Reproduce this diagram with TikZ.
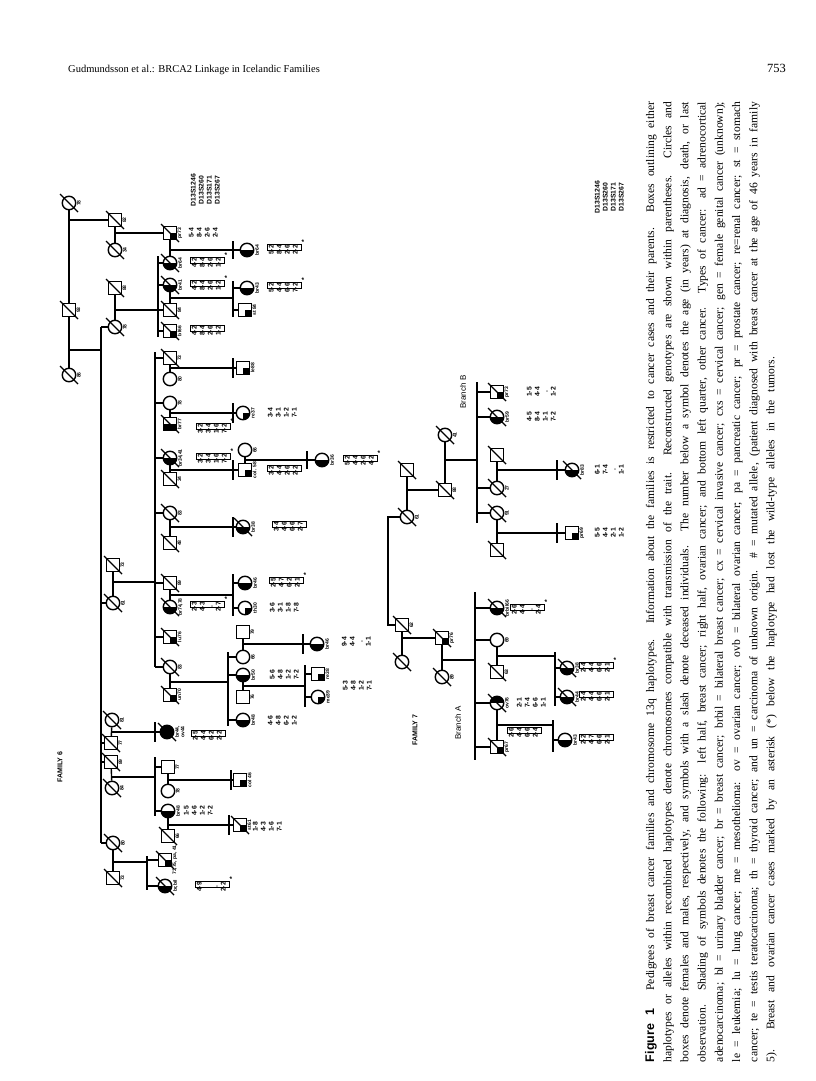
\documentclass[tikz,border=0pt]{standalone}
\usepackage{fontspec}
\setmainfont{Liberation Serif}
\setsansfont{Liberation Sans}
\usetikzlibrary{calc}

\newcommand{\pedfont}{\fontsize{5}{5.5}\selectfont\sffamily\bfseries}
\newcommand{\hapfont}{\fontsize{6.8}{8}\selectfont\sffamily\bfseries}
\newcommand{\hp}[4]{\begin{tabular}{@{}c@{}}#1\\#2\\#3\\#4\end{tabular}}
\newcommand{\hapbox}[1]{\draw[line width=0.7pt] (#1.north east) rectangle ($(#1.south west)!0.45!(#1.south east)$);}
\newcommand{\hapstar}[1]{\node[hap] (#1s) at ([shift={(3,-3)}]#1.south east) {*};}
\newcommand{\capline}[1]{\makebox[960pt][s]{#1}}

\begin{document}
\begin{tikzpicture}[x=1pt, y=-1pt,
  ln/.style={line width=1.4pt},
  sq/.style={draw, rectangle, line width=1.4pt, minimum size=12.5pt, inner sep=0pt},
  ci/.style={draw, circle, line width=1.4pt, minimum size=13.5pt, inner sep=0pt},
  brc/.style={path picture={\fill (path picture bounding box.south west) rectangle (path picture bounding box.east);}},
  ovc/.style={path picture={\fill (path picture bounding box.west) rectangle (path picture bounding box.north east);}},
  oth/.style={path picture={\fill (path picture bounding box.center) rectangle (path picture bounding box.south east);}},
  lab/.style={font=\pedfont, rotate=90, inner sep=0.5pt, align=center},
  lb/.style={label distance=1.5pt, label={[lab, anchor=north]east:#1}},
  hap/.style={font=\hapfont, rotate=90, inner sep=0.8pt},
  ttl/.style={font=\fontsize{7}{8}\selectfont\sffamily\bfseries, rotate=90},
  brn/.style={font=\fontsize{8}{9}\selectfont\sffamily, rotate=90}]
\useasboundingbox (0,0) rectangle (816,1081);
\fill[white] (0,0) rectangle (816,1081);

\node[anchor=base west, inner sep=0, font=\fontsize{10.5}{12}\selectfont] (hdr) at (68,72) {Gudmundsson et al.: BRCA2 Linkage in Icelandic Families};
\node[anchor=base east, inner sep=0, font=\fontsize{12.5}{14}\selectfont] (pg) at (786,72) {753};

\node[ci, lb=78] (a1) at (69,203) {};
\node[sq, lb=93] (a2) at (69,310) {};
\node[ci, lb=86] (a3) at (69,375) {};
\node[sq, lb=82] (b1) at (115,220) {};
\node[ci, lb=34] (b2) at (115,250) {};
\node[sq, lb=88] (b3) at (115,288) {};
\node[ci, lb=78] (b4) at (115,327) {};
\node[sq, lb=73] (b5) at (113,565) {};
\node[ci, lb=61] (b6) at (113,603) {};
\node[ci, lb=81] (b7) at (112,720) {};
\node[sq, lb=77] (b8) at (111,743) {};
\node[sq, lb=89] (b9) at (111,762) {};
\node[ci, lb=84] (b10) at (112,788) {};
\node[ci, lb=80] (b11) at (113,843) {};
\node[sq, lb=73] (b12) at (113,878) {};

\node[sq, oth, lb=pr73] (c1) at (170,233) {};
\node[ci, brc, lb=br64] (c2) at (170,263) {};
\node[ci, brc, lb=br41] (c3) at (170,285) {};
\node[sq, lb=84] (c4) at (170,310) {};
\node[sq, oth, lb=bl66] (c5) at (170,331) {};
\node[sq, lb=73] (c6) at (170,358) {};
\node[ci, lb=80] (c7) at (170,379) {};
\node[ci, lb=78] (c8) at (170,403) {};
\node[sq, brc, lb=br77] (c9) at (170,424) {};
\node[ci, brc, lb={br34,41}] (c10) at (170,458) {};
\node[sq, lb=34] (c11) at (170,479) {};
\node[ci, lb=83] (c12) at (170,513) {};
\node[sq, lb=48] (c13) at (170,543) {};
\node[sq, lb=89] (c14) at (170,583) {};
\node[ci, brc, lb={br74,78}] (c15) at (170,607) {};
\node[sq, oth, lb=lu76] (c16) at (170,637) {};
\node[ci, lb=83] (c17) at (170,667) {};
\node[sq, oth, lb=un70] (c18) at (170,695) {};
\node[ci, fill=black, lb={br44,\\ov44}] (c19) at (167,732) {};
\node[sq, lb=77] (c20) at (168,767) {};
\node[ci, lb=78] (c21) at (168,791) {};
\node[ci, brc, lb=br48] (c22) at (168,811) {};
\node[sq, lb=66] (c23) at (168,836) {};
\node[sq, oth, lb={73,75, pa, 41}] (c24) at (165,860) {};
\node[ci, brc, lb={br,bil}] (c25) at (165,886) {};

\node[ci, brc, lb=br64] (d1) at (247,250) {};
\node[ci, brc, lb=br43] (d2) at (247,288) {};
\node[sq, oth, lb=st 84] (d3) at (245,310) {};
\node[sq, oth, lb=le88] (d4) at (243,368) {};
\node[ci, oth, lb=re37] (d5) at (243,413) {};
\node[ci, lb=66] (d6) at (245,450) {};
\node[sq, oth, lb=col. 58] (d7) at (245,470) {};
\node[ci, brc, lb=br38] (d8) at (243,527) {};
\node[ci, brc, lb=br46] (d9) at (245,583) {};
\node[ci, oth, lb=th30] (d10) at (245,608) {};
\node[sq, lb=79] (d11) at (243,632) {};
\node[ci, lb=66] (d12) at (243,657) {};
\node[ci, brc, lb=br50] (d13) at (243,675) {};
\node[sq, lb=76] (d14) at (243,697) {};
\node[ci, brc, lb=br48] (d15) at (243,720) {};
\node[sq, oth, lb=col 46] (d16) at (240,780) {};
\node[sq, oth, lb=st61] (d17) at (240,825) {};

\node[ci, brc, lb=br36] (e1) at (322,460) {};
\node[ci, brc, lb=br46] (e2) at (317,644) {};
\node[sq, oth, lb=re38] (e3) at (318,674) {};
\node[ci, oth, lb=me39] (e4) at (318,697) {};

\node[sq] (f1) at (407,470) {};
\node[ci, lb=61] (f2) at (407,517) {};
\node[sq, lb=88] (f3) at (445,490) {};
\node[ci, lb=41] (f4) at (445,435) {};
\node[sq, oth, lb=pr73] (f5) at (497,392) {};
\node[ci, brc, lb=br59] (f6) at (497,417) {};
\node[sq] (f7) at (497,455) {};
\node[ci, lb=27] (f8) at (497,488) {};
\node[ci, lb=91] (f9) at (497,513) {};
\node[sq] (f10) at (497,550) {};
\node[ci, brc, lb=br83] (f11) at (572,470) {};
\node[sq, oth, lb=pr69] (f12) at (572,533) {};
\node[sq, lb=62] (f13) at (402,625) {};
\node[ci] (f14) at (402,662) {};
\node[sq, oth, lb=pr76] (f15) at (442,638) {};
\node[ci, lb=89] (f16) at (442,677) {};
\node[ci, brc, lb=brbil66] (f17) at (497,608) {};
\node[ci, lb=69] (f18) at (497,640) {};
\node[sq, lb=63] (f19) at (497,672) {};
\node[ci, ovc, lb=ov76] (f20) at (497,703) {};
\node[sq, oth, lb=pr67] (f21) at (497,747) {};
\node[ci, brc, lb=br38] (f22) at (567,668) {};
\node[ci, brc, lb=br44] (f23) at (567,697) {};
\node[ci, brc, lb=br43] (f24) at (565,740) {};

\coordinate (s1t) at (101,327);
\coordinate (s1b) at (101,843);
\coordinate (g1) at (69,350);
\coordinate (s2t) at (158,256);
\coordinate (s2b) at (158,337);
\coordinate (s3t) at (155,352);
\coordinate (s3b) at (155,667);
\coordinate (g2) at (113,582);
\coordinate (s4t) at (228,652);
\coordinate (s4b) at (228,726);
\coordinate (g3) at (170,682);
\coordinate (s5t) at (155,757);
\coordinate (s5b) at (155,816);
\coordinate (g4) at (111,777);
\coordinate (s6t) at (147,856);
\coordinate (s6b) at (147,890);
\coordinate (g5) at (113,862);
\coordinate (m2) at (233,298);
\coordinate (m4) at (233,595);
\coordinate (m5) at (305,686);

\draw[ln] (a1) -- (a2) -- (a3);
\draw[ln] (b1 -| a1.center) -- (b1);
\draw[ln] (g1) -- (g1 -| s1t);
\draw[ln] (s1t) -- (s1b);
\foreach \p in {b4,b6,b8,b9,b11} \draw[ln] (\p -| s1t) -- (\p);
\draw[ln] (b1) -- (b2);
\draw[ln] (c1 -| b1.center) -- (c1);
\draw[ln] (b3) -- (b4);
\draw[ln] (c4 -| b3.center) -- (c4 -| s2t);
\draw[ln] (s2t) -- (s2b);
\foreach \p in {c2,c3,c4,c5} \draw[ln] (\p -| s2t) -- (\p);
\draw[ln] (c1) -- (c2);
\draw[ln] (d1 -| c1.center) -- (d1) (233,241) -- (233,259);
\draw[ln] (c3) -- (c4);
\draw[ln] (m2 -| c3.center) -- (m2) (233,281) -- (233,317);
\foreach \p in {d2,d3} \draw[ln] (\p -| m2) -- (\p);
\draw[ln] (b5) -- (b6);
\draw[ln] (g2) -- (g2 -| s3t);
\draw[ln] (s3t) -- (s3b);
\foreach \p in {c6,c8,c10,c12,c14,c16,c17} \draw[ln] (\p -| s3t) -- (\p);
\draw[ln] (c6) -- (c7);
\draw[ln] (d4 -| c6.center) -- (d4) (233,358) -- (233,378);
\draw[ln] (c8) -- (c9);
\draw[ln] (d5 -| c8.center) -- (d5) (233,403) -- (233,423);
\draw[ln] (c10) -- (c11);
\draw[ln] (d7 -| c10.center) -- (d7) (233,460) -- (233,480);
\draw[ln] (d6) -- (d7);
\draw[ln] (e1 -| d6.center) -- (e1) (307,451) -- (307,469);
\draw[ln] (c12) -- (c13);
\draw[ln] (d8 -| c12.center) -- (d8) (233,517) -- (233,537);
\draw[ln] (c14) -- (c15);
\draw[ln] (m4 -| c14.center) -- (m4) (233,574) -- (233,616);
\foreach \p in {d9,d10} \draw[ln] (\p -| m4) -- (\p);
\draw[ln] (c17) -- (c18);
\draw[ln] (g3) -- (g3 -| s4t);
\draw[ln] (s4t) -- (s4b);
\foreach \p in {d12,d13,d15} \draw[ln] (\p -| s4t) -- (\p);
\draw[ln] (d11) -- (d12);
\draw[ln] (e2 -| d11.center) -- (e2) (303,634) -- (303,654);
\draw[ln] (d13) -- (d14);
\draw[ln] (m5 -| d13.center) -- (m5) (305,665) -- (305,707);
\foreach \p in {e3,e4} \draw[ln] (\p -| m5) -- (\p);
\draw[ln] (b7) -- (b8);
\draw[ln] (c19 -| b7.center) -- (c19) (155,722) -- (155,742);
\draw[ln] (b9) -- (b10);
\draw[ln] (g4) -- (g4 -| s5t);
\draw[ln] (s5t) -- (s5b);
\foreach \p in {c20,c22} \draw[ln] (\p -| s5t) -- (\p);
\draw[ln] (c20) -- (c21);
\draw[ln] (d16 -| c20.center) -- (d16) (231,770) -- (231,790);
\draw[ln] (c22) -- (c23);
\draw[ln] (d17 -| c22.center) -- (d17) (229,815) -- (229,835);
\draw[ln] (b11) -- (b12);
\draw[ln] (g5) -- (g5 -| s6t);
\draw[ln] (s6t) -- (s6b);
\foreach \p in {c24,c25} \draw[ln] (\p -| s6t) -- (\p);

\coordinate (s7t) at (477,382);
\coordinate (s7b) at (477,523);
\coordinate (g6) at (445,460);
\coordinate (k1) at (388,517);
\coordinate (k2) at (388,625);
\coordinate (s8t) at (475,592);
\coordinate (s8b) at (475,760);
\coordinate (g7) at (442,660);
\coordinate (m7) at (555,656);
\coordinate (m8) at (553,725);

\draw[ln] (f1) -- (f2);
\draw[ln] (f3 -| f1.center) -- (f3);
\draw[ln] (f4) -- (f3);
\draw[ln] (g6) -- (g6 -| s7t);
\draw[ln] (s7t) -- (s7b);
\foreach \p in {f5,f6,f8,f9} \draw[ln] (\p -| s7t) -- (\p);
\draw[ln] (f7) -- (f8);
\draw[ln] (f11 -| f7.center) -- (f11) (557,460) -- (557,480);
\draw[ln] (f9) -- (f10);
\draw[ln] (f12 -| f9.center) -- (f12) (557,523) -- (557,543);
\draw[ln] (f2) -- (k1) -- (k2) -- (f13);
\draw[ln] (f13) -- (f14);
\draw[ln] (f15 -| f13.center) -- (f15);
\draw[ln] (f15) -- (f16);
\draw[ln] (g7) -- (g7 -| s8t);
\draw[ln] (s8t) -- (s8b);
\foreach \p in {f17,f18,f20,f21} \draw[ln] (\p -| s8t) -- (\p);
\draw[ln] (f18) -- (f19);
\draw[ln] (m7 -| f18.center) -- (m7) (555,652) -- (555,706);
\foreach \p in {f22,f23} \draw[ln] (\p -| m7) -- (\p);
\draw[ln] (f20) -- (f21);
\draw[ln] (m8 -| f20.center) -- (m8) (553,720) -- (553,752);
\draw[ln] (f24 -| m8) -- (f24);

\foreach \p in {a1,a2,a3,b1,b2,b3,b4,b5,b6,b7,b8,b9,b10,b11,b12,c1,c2,c3,c4,c5,c6,c9,c10,c11,c12,c13,c14,c15,c16,c17,c18,c19,c23,c24,c25,d8,d17,f1,f2,f3,f4,f5,f6,f7,f8,f9,f10,f11,f13,f14,f15,f16,f17,f19,f20,f21,f22,f23}
  \draw[ln] ([shift={(-9,-9)}]\p.center) -- ([shift={(9,9)}]\p.center);

\node[hap] (mk6) at (206,190) {\hp{D13S1246}{D13S260}{D13S171}{D13S267}};
\node[hap] (hc1) at (204,233) {\hp{5-4}{8-4}{2-6}{2-4}};
\node[hap] (hc2) at (207,263) {\hp{4-2}{8-4}{2-6}{1-2}};
\node[hap] (hc3) at (207,286) {\hp{4-2}{8-4}{2-6}{1-2}};
\node[hap] (hc5) at (207,331) {\hp{4-2}{8-4}{2-6}{1-2}};
\node[hap] (hd1) at (284,250) {\hp{5-2}{8-4}{2-6}{2-2}};
\node[hap] (hd2) at (284,288) {\hp{5-2}{4-4}{6-6}{7-2}};
\node[hap] (hc9) at (213,429) {\hp{3-2}{3-4}{1-6}{7-2}};
\node[hap] (hd5) at (283,413) {\hp{3-4}{3-1}{1-2}{7-1}};
\node[hap] (hc10) at (213,459) {\hp{3-2}{3-4}{1-6}{7-2}};
\node[hap] (hd7) at (284,471) {\hp{3-2}{4-4}{2-6}{2-2}};
\node[hap] (he1) at (360,461) {\hp{5-2}{4-4}{2-6}{4-2}};
\node[hap] (hd8) at (289,527) {\hp{3-4}{4-6}{6-6}{2-7}};
\node[hap] (hc15) at (207,607) {\hp{2-3}{4-3}{.}{2-7}};
\node[hap] (hd9) at (286,583) {\hp{2-5}{4-7}{6-2}{2-1}};
\node[hap] (hd10) at (285,608) {\hp{3-6}{3-1}{1-8}{7-8}};
\node[hap] (he2) at (357,642) {\hp{9-4}{4-4}{.}{1-1}};
\node[hap] (hd13) at (285,675) {\hp{5-6}{4-8}{1-2}{7-2}};
\node[hap] (he3) at (358,686) {\hp{5-3}{4-8}{1-2}{7-1}};
\node[hap] (hd15) at (283,721) {\hp{4-6}{4-8}{6-2}{1-2}};
\node[hap] (hc19) at (208,736) {\hp{2-5}{4-4}{6-2}{2-2}};
\node[hap] (hc22) at (199,811) {\hp{1-5}{4-6}{1-2}{7-2}};
\node[hap] (hd17) at (268,827) {\hp{1-8}{4-3}{1-6}{7-1}};
\node[hap] (hc25) at (212,887) {\hp{4-9}{}{.}{2-2}};

\node[hap] (mk7) at (610,197) {\hp{D13S1246}{D13S260}{D13S171}{D13S267}};
\node[hap] (hf5) at (542,392) {\hp{1-5}{4-4}{.}{1-2}};
\node[hap] (hf6) at (542,417) {\hp{4-5}{8-4}{1-1}{7-2}};
\node[hap] (hf11) at (610,470) {\hp{6-1}{7-4}{.}{1-1}};
\node[hap] (hf12) at (610,533) {\hp{5-5}{4-4}{2-1}{1-2}};
\node[hap] (hf17) at (527,610) {\hp{2-6}{4-4}{.}{2-4}};
\node[hap] (hf20) at (532,703) {\hp{2-1}{7-4}{6-6}{1-1}};
\node[hap] (hf21) at (524,733) {\hp{2-6}{4-4}{6-6}{2-4}};
\node[hap] (hf22) at (596,668) {\hp{2-4}{4-4}{6-6}{2-1}};
\node[hap] (hf23) at (596,697) {\hp{2-4}{4-4}{6-6}{2-1}};
\node[hap] (hf24) at (596,740) {\hp{2-2}{4-7}{6-6}{2-1}};

\foreach \h in {hc2,hc3,hc5,hd1,hd2,hc9,hc10,hd7,he1,hd8,hc15,hd9,hc19,hc25,hf17,hf21,hf22,hf23,hf24} {\hapbox{\h}}
\foreach \h in {hc2,hc3,hd1,hd2,hc9,hc10,he1,hc15,hd9,hc25,hf17,hf22} {\hapstar{\h}}

\node[ttl] (fam6) at (60,767) {FAMILY 6};
\node[ttl] (fam7) at (415,730) {FAMILY 7};
\node[brn] (bra) at (458,723) {Branch A};
\node[brn] (brb) at (463,392) {Branch B};

\node[rotate=90, align=left, inner sep=0, font=\fontsize{11.6}{17.2}\selectfont] (cap) at (711,582) {%
\capline{\textsf{\bfseries\fontsize{12.5}{14}\selectfont Figure 1}\quad\ Pedigrees of breast cancer families and chromosome 13q haplotypes. Information about the families is restricted to cancer cases and their parents. Boxes outlining either}\\
\capline{haplotypes or alleles within recombined haplotypes denote chromosomes compatible with transmission of the trait. Reconstructed genotypes are shown within parentheses. Circles and}\\
\capline{boxes denote females and males, respectively, and symbols with a slash denote deceased individuals. The number below a symbol denotes the age (in years) at diagnosis, death, or last}\\
\capline{observation. Shading of symbols denotes the following: left half, breast cancer; right half, ovarian cancer; and bottom left quarter, other cancer. Types of cancer: ad = adrenocortical}\\
\capline{adenocarcinoma; bl = urinary bladder cancer; br = breast cancer; brbil = bilateral breast cancer; cx = cervical invasive cancer; cxs = cervical cancer; gen = female genital cancer (unknown);}\\
\capline{le = leukemia; lu = lung cancer; me = mesothelioma: ov = ovarian cancer; ovb = bilateral ovarian cancer; pa = pancreatic cancer; pr = prostate cancer; re=renal cancer; st = stomach}\\
\capline{cancer; te = testis teratocarcinoma; th = thyroid cancer; and un = carcinoma of unknown origin. \# = mutated allele, (patient diagnosed with breast cancer at the age of 46 years in family}\\
\makebox[960pt][l]{\makebox[705pt][s]{5). Breast and ovarian cancer cases marked by an asterisk (*) below the haplotype had lost the wild-type alleles in the tumors.}}};
\end{tikzpicture}
\end{document}
